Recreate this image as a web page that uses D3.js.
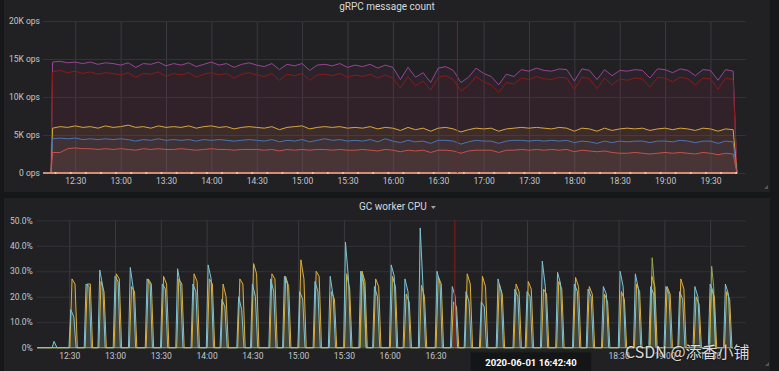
<!DOCTYPE html>
<html>
<head>
<meta charset="utf-8">
<script src="https://cdn.jsdelivr.net/npm/d3@7"></script>
<style>
  body { margin: 0; background: #161719; }
  svg { display: block; font-family: Roboto, "Noto Sans", sans-serif; }
</style>
</head>
<body>
<script>
// ---- data: gRPC message count, K ops, one sample every 5 min from 12:15 to 19:45
const msgStart = "12:15"
const msgStepMin = 5
const purpleOps = [14.6,14.7,14.5,14.6,14.4,14.6,14.3,14.5,14.4,14.2,
  14.5,13.9,14.4,14.3,14.6,14.1,14.4,14.2,14.5,14.0,14.3,14.6,
  14.2,14.4,13.9,14.3,14.5,14.2,14.0,14.4,13.6,14.3,14.1,14.4,
  13.5,14.2,14.3,14.1,14.4,13.9,14.2,14.0,14.3,13.8,14.2,13.9,
  12.3,13.9,12.6,13.2,11.9,13.8,14.0,13.5,11.9,12.6,13.8,13.1,
  12.7,11.6,13.0,12.7,13.6,13.4,13.8,13.5,13.4,13.7,13.6,12.1,
  13.7,13.5,12.3,13.6,12.8,13.5,13.4,13.6,13.5,12.5,13.7,13.6,
  13.2,13.7,13.5,12.8,13.6,13.5,12.2,13.6,13.4]
const darkRedOps = [13.3,13.5,13.2,13.4,13.1,13.3,13.0,13.2,13.1,12.9,
  13.2,12.6,13.1,13.0,13.3,12.7,13.1,12.9,13.2,12.6,13.0,13.2,
  12.9,13.1,12.5,13.0,13.2,12.9,12.7,13.1,12.2,13.0,12.8,13.1,
  12.2,12.9,13.0,12.8,13.1,12.6,12.9,12.7,13.0,12.5,12.9,12.5,
  11.2,12.7,11.5,12.1,10.9,12.6,12.8,12.3,10.8,11.5,12.7,12.0,
  11.6,10.6,11.9,11.7,12.5,12.3,12.7,12.4,12.3,12.6,12.5,11.0,
  12.6,12.4,11.1,12.5,11.6,12.4,12.2,12.5,12.4,11.3,12.6,12.5,
  12.0,12.6,12.4,11.6,12.5,12.4,11.0,12.5,12.3]
const yellowOps = [5.9,6.1,6.0,6.2,6.0,6.1,5.9,6.2,6.0,6.1,
  6.3,6.0,6.1,5.9,6.2,6.0,6.1,6.0,6.2,5.9,6.1,6.2,
  6.0,6.1,5.8,6.0,6.1,6.0,5.9,6.1,5.7,6.0,6.1,6.2,
  5.8,6.0,6.1,6.0,6.1,5.9,6.0,5.9,6.1,5.8,6.0,5.9,
  5.6,6.0,5.7,5.9,5.5,5.9,6.0,5.8,5.4,5.7,5.9,5.8,
  5.9,5.5,5.8,5.9,6.0,5.9,6.0,5.9,5.8,6.0,5.9,5.5,
  5.9,5.8,5.5,5.9,5.6,5.8,5.9,5.8,5.9,5.6,5.8,5.9,
  5.7,5.9,5.8,5.6,5.9,5.8,5.5,5.8,5.7]
const blueOps = [4.5,4.6,4.5,4.6,4.4,4.5,4.4,4.5,4.4,4.5,
  4.4,4.2,4.4,4.3,4.5,4.3,4.4,4.3,4.4,4.2,4.4,4.3,
  4.4,4.3,4.2,4.3,4.4,4.3,4.2,4.4,4.1,4.3,4.2,4.4,
  4.1,4.3,4.5,4.3,4.4,4.2,4.3,4.2,4.4,4.1,4.5,4.2,
  4.0,4.3,4.1,4.2,3.9,4.3,4.3,4.2,3.8,4.1,4.3,4.2,
  4.2,3.9,4.2,4.3,4.3,4.2,4.3,4.2,4.3,4.2,4.3,4.0,
  4.2,4.1,3.9,4.2,4.0,4.2,4.1,4.2,4.2,4.0,4.2,4.2,
  4.1,4.3,4.2,4.0,4.2,4.2,3.9,4.2,4.1]
const salmonOps = [2.7,2.7,3.2,3.3,3.2,3.2,3.1,3.2,3.1,3.2,
  3.1,3.0,3.2,3.1,3.2,3.1,3.1,3.2,3.1,3.0,3.1,3.2,
  3.1,3.1,3.0,3.1,3.1,3.1,3.0,3.1,2.9,3.1,3.0,3.1,
  3.0,3.1,3.1,3.0,3.1,3.0,3.0,3.1,3.0,2.9,3.1,3.0,
  2.8,3.0,2.9,3.0,2.7,3.0,3.0,2.9,2.6,2.9,3.0,3.0,
  3.0,2.7,3.0,3.0,3.1,3.0,3.1,3.0,3.1,3.0,3.1,2.8,
  3.0,2.9,2.8,2.9,2.7,2.6,2.6,2.7,2.6,2.5,2.6,2.7,
  2.6,2.7,2.6,2.5,2.7,2.6,2.4,2.6,2.5]
const msgRise = "12:14"
const msgDrop = "19:47:30"
// idle series sitting on 0 ops, one point every 10 min
const idleFirst = "12:17"
const idleCount = 46

// ---- data: GC worker CPU %, one busy burst about every 10 min
const pulseTimes = ["12:20","12:31","12:41","12:50","13:00","13:10","13:21","13:31","13:41","13:51",
  "14:01","14:10","14:21","14:30","14:42","14:51","15:01","15:11","15:21","15:31",
  "15:41","15:50","16:01","16:10","16:20","16:31","16:41","16:50","17:00","17:11",
  "17:22","17:30","17:40","17:50","18:01","18:10","18:20","18:31","18:41","18:51",
  "19:01","19:10","19:20","19:30","19:40"]
const blueMax = [2.5,15,25,30.5,28, 31.5,27,25,31,25, 32.5,19,20,25,27, 28,22,26,28,41.5,
  30,24,32.5,27,47, 30,24,22,18,27, 23,22,34,29.6,25, 23,24,30,29,24, 24,22,24,25,25]
const blueTail = [0,12,24,24,26, 23,25,23,24,22, 27,16,15,20,22, 25,19,22,20,27,
  25,20,28,22,22, 25,20,18,16,22, 20,20,24,25,22, 20,21,24,23,21, 21,19,20,22,21]
const yellowMax = [0,27,25,26,29, 24,27,28,27,29, 27,25,27,33,29, 28,34.5,30,22,29,
  30,27,28,21,24.5, 28,18,29,28,25, 25,26,23,26,27.6, 24,21,22,25,28, 24,27,20,23,22]
const yellowTail = [0,25,25,22,27, 22,25,25,25,26, 25,20,25,29,27, 24,27,28,19,23,
  26,24,24,18,20, 25,16,25,24,21, 22,23,21,23,24, 21,18,19,22,24, 21,23,17,20,19]
const greenMax = [0,0,0,0,0, 0,0,0,0,0, 0,0,0,0,0, 0,0,0,0,0,
  30,0,0,0,0, 0,0,0,0,0, 0,0,0,0,0, 0,0,0,0,35.3, 0,0,0,32,0]
const greenTail = [0,0,0,0,0, 0,0,0,0,0, 0,0,0,0,0, 0,0,0,0,0,
  24,0,0,0,0, 0,0,0,0,0, 0,0,0,0,0, 0,0,0,0,26, 0,0,0,24,0]
const cpuStart = "12:09"
const cpuEnd = "19:45"

const hoverTime = "16:42:40"
const hoverLabel = "2020-06-01 16:42:40"
const opsTicks = [0, 5000, 10000, 15000, 20000]
const cpuTicks = [0, 10, 20, 30, 40, 50]

// ---- helpers
const minute = 60000
const day = (s) => {
  const p = s.split(":").map(Number)
  return new Date(2020, 5, 1, p[0], p[1], p[2] || 0)
}
const later = (s, m) => new Date(day(s).getTime() + m * minute)

const msgPoints = (vals) => [{t: day(msgRise), v: 0}]
  .concat(vals.map((v, i) => ({t: later(msgStart, i * msgStepMin), v: v * 1000})))
  .concat([{t: day(msgDrop), v: 0}])

// each burst: up from 0, max, tail value, back to 0 (offsets in minutes)
const pulsePoints = (maxes, tails, shape) => {
  const pts = [{t: day(cpuStart), v: 0}]
  pulseTimes.forEach((s, i) => {
    if (!maxes[i]) return
    pts.push({t: later(s, shape[0]), v: 0},
             {t: later(s, shape[1]), v: maxes[i]},
             {t: later(s, shape[2]), v: tails[i]},
             {t: later(s, shape[3]), v: 0})
  })
  pts.push({t: day(cpuEnd), v: 0})
  return pts
}

const msgSeries = [
  {pts: msgPoints(purpleOps), color: "#9a4590"},
  {pts: msgPoints(darkRedOps), color: "#8e1a16"},
  {pts: msgPoints(yellowOps), color: "#d6a83a"},
  {pts: msgPoints(blueOps), color: "#4b74b4"},
  {pts: msgPoints(salmonOps), color: "#c4534a"}
]
const cpuSeries = [
  {pts: pulsePoints(greenMax, greenTail, [-0.3, 1, 2.3, 3.6]), color: "#93a948"},
  {pts: pulsePoints(yellowMax, yellowTail, [-0.6, 0.8, 2.8, 4.3]), color: "#dcae3a"},
  {pts: pulsePoints(blueMax, blueTail, [-1.2, 0, 2, 3.5]), color: "#7ec3d3"}
]

// ---- svg
const svg = d3.select("body").append("svg")
  .attr("width", 779)
  .attr("height", 371)

svg.append("rect").attr("x", 4).attr("y", 0).attr("width", 766).attr("height", 192).attr("fill", "#212124")
svg.append("rect").attr("x", 4).attr("y", 198).attr("width", 766).attr("height", 180).attr("fill", "#212124")

const drawPanel = (o) => {
  const g = svg.append("g")
  const x = d3.scaleTime().domain([day("12:08:40"), day("19:53:30")]).range([o.left, 746])
  const y = d3.scaleLinear().domain(o.yDomain).range([o.bottom, o.top])

  // title
  const title = g.append("text")
    .attr("x", o.titleX).attr("y", o.titleY)
    .attr("text-anchor", o.titleAnchor)
    .attr("fill", "#d8d9da").attr("font-size", 10)
    .text(o.title)
  if (o.menu) {
    const end = o.titleX + title.node().getComputedTextLength()
    g.append("path").attr("d", `M${end + 4},${o.titleY - 4} l5,0 l-2.5,3 z`).attr("fill", "#a0a2a6")
  }

  // grid
  g.append("g")
    .attr("transform", `translate(0,${o.bottom})`)
    .call(d3.axisBottom(x).ticks(d3.timeMinute.every(30)).tickSize(-(o.bottom - o.top)).tickFormat(""))
    .call(a => a.select(".domain").remove())
    .call(a => a.selectAll("line").attr("stroke", "#3a3b3f"))
  g.append("g")
    .attr("transform", `translate(${o.left},0)`)
    .call(d3.axisLeft(y).tickValues(o.yTicks).tickSize(-(746 - o.left)).tickFormat(""))
    .call(a => a.select(".domain").remove())
    .call(a => a.selectAll("line").attr("stroke", "#323337"))

  // axes labels
  g.append("g")
    .attr("transform", `translate(0,${o.bottom})`)
    .call(d3.axisBottom(x).ticks(d3.timeMinute.every(30)).tickFormat(d3.timeFormat("%H:%M")).tickSize(0).tickPadding(5))
    .call(a => a.select(".domain").remove())
    .call(a => a.selectAll("text").attr("fill", "#c4c6c9").attr("font-size", 8.5).attr("font-family", "Roboto, sans-serif"))
  g.append("g")
    .attr("transform", `translate(${o.left},0)`)
    .call(d3.axisLeft(y).tickValues(o.yTicks).tickFormat(o.yFormat).tickSize(0).tickPadding(o.yPad))
    .call(a => a.select(".domain").remove())
    .call(a => a.selectAll("text").attr("fill", "#c4c6c9").attr("font-size", 8.5).attr("font-family", "Roboto, sans-serif"))

  const area = d3.area().x(d => x(d.t)).y0(y(0)).y1(d => y(d.v))
  const line = d3.line().x(d => x(d.t)).y(d => y(d.v))

  g.selectAll(".fill").data(o.series).join("path")
    .attr("d", d => area(d.pts))
    .attr("fill", d => d.color)
    .attr("fill-opacity", o.fillOpacity)
  g.selectAll(".line").data(o.series).join("path")
    .attr("d", d => line(d.pts))
    .attr("fill", "none")
    .attr("stroke", d => d.color)
    .attr("stroke-width", 1)

  if (o.after) o.after(g, x, y)

  // hover marker
  g.append("line")
    .attr("x1", x(day(hoverTime))).attr("x2", x(day(hoverTime)))
    .attr("y1", o.top).attr("y2", o.bottom)
    .attr("stroke", "#8a1c1c").attr("stroke-width", 1)
}

drawPanel({
  title: "gRPC message count", titleX: 387, titleY: 10, titleAnchor: "middle",
  left: 43, top: 21, bottom: 173,
  yDomain: [0, 20000], yTicks: opsTicks, yPad: 3,
  yFormat: d => d === 0 ? "0 ops" : (d / 1000) + "K ops",
  series: msgSeries, fillOpacity: 0.08,
  after: (g, x, y) => {
    g.append("line")
      .attr("x1", 43).attr("x2", x(day(msgDrop)))
      .attr("y1", y(0)).attr("y2", y(0))
      .attr("stroke", "#d48b78").attr("stroke-width", 2)
    g.selectAll(".idle").data(d3.range(idleCount)).join("circle")
      .attr("cx", i => x(later(idleFirst, i * 10)))
      .attr("cy", y(0))
      .attr("r", 1.1)
      .attr("fill", "#f0d0a8")
  }
})

drawPanel({
  title: "GC worker CPU", titleX: 359, titleY: 210, titleAnchor: "start", menu: true,
  left: 36.7, top: 220.3, bottom: 347.7,
  yDomain: [0, 50], yTicks: cpuTicks, yPad: 4,
  yFormat: d => d === 0 ? "0%" : d.toFixed(1) + "%",
  series: cpuSeries, fillOpacity: 0.12
})

// panel resize corners
svg.append("path").attr("d", "M768,185 L768,189 L764,189 Z").attr("fill", "#55565a")
svg.append("path").attr("d", "M769,362 L769,366 L765,366 Z").attr("fill", "#55565a")

// tooltip time label
svg.append("rect").attr("x", 470.5).attr("y", 352).attr("width", 121).attr("height", 22)
  .attr("fill", "#141517").attr("stroke", "#1d1e21")
svg.append("text").attr("x", 531).attr("y", 365.5).attr("text-anchor", "middle")
  .attr("fill", "#ffffff").attr("font-size", 9.5).attr("font-weight", "bold")
  .text(hoverLabel)

// watermark
svg.append("text").attr("x", 625).attr("y", 357.5)
  .attr("fill", "rgba(255,255,255,0.85)").attr("font-size", 16)
  .attr("font-family", "'Noto Sans CJK SC', 'Noto Sans', sans-serif")
  .style("text-shadow", "0 0 2px #000")
  .text("CSDN @添香小铺")
</script>
</body>
</html>
